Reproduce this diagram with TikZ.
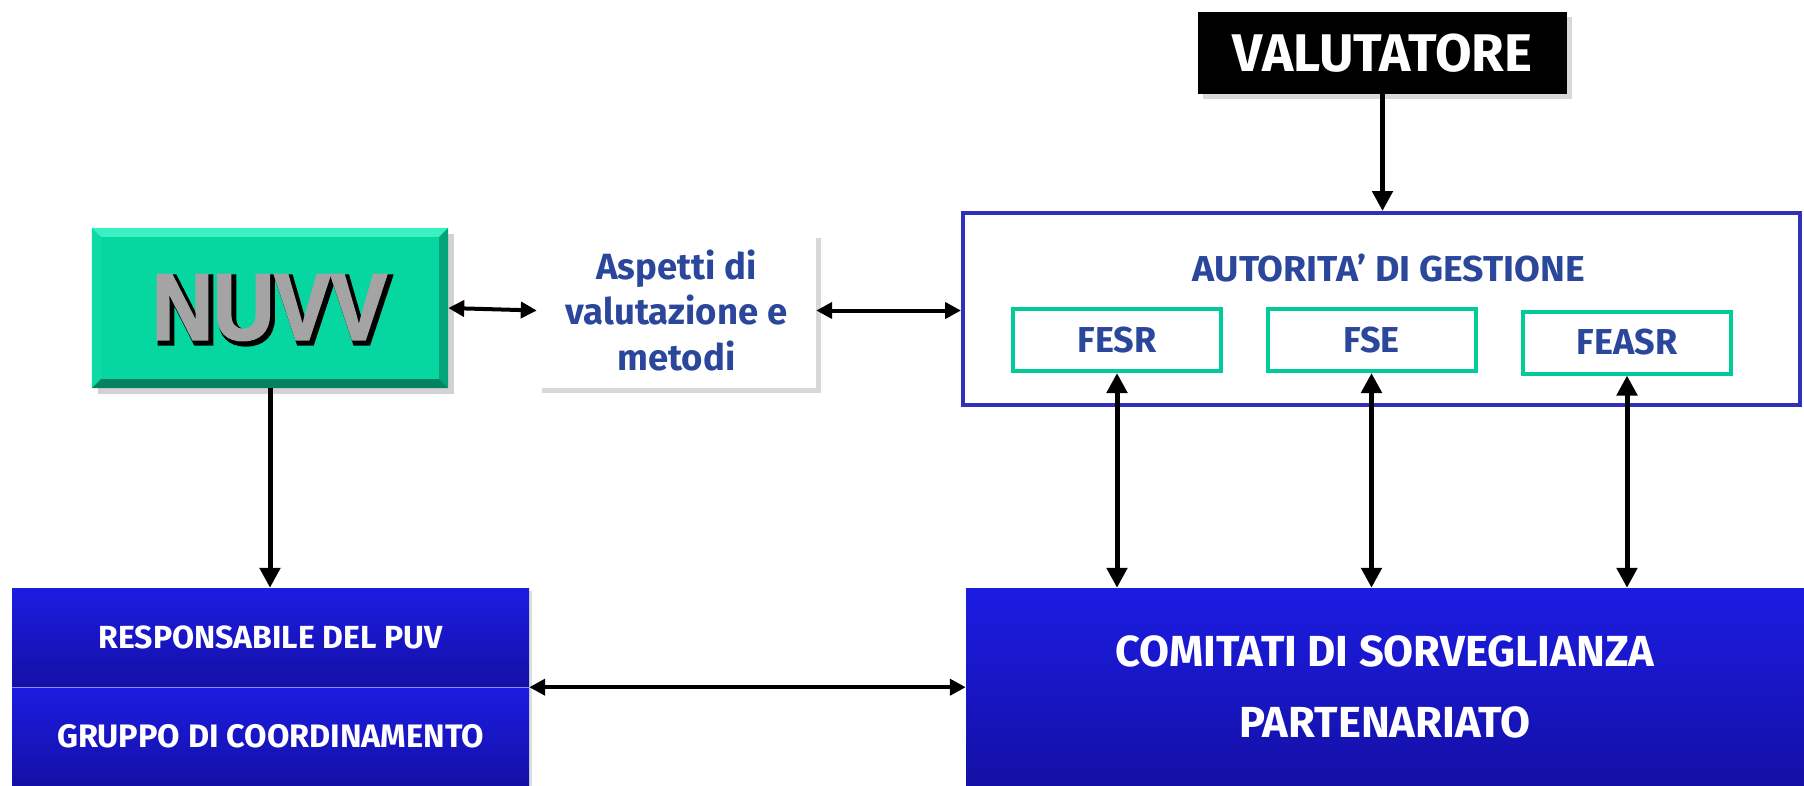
\documentclass[tikz,border=0pt]{standalone}
\usepackage{fontspec}
\setmainfont{Fira Sans}
\newfontfamily\nuvvfontA{Liberation Sans Bold}[FakeBold=2.5]
\newfontfamily\nuvvfontB{Liberation Sans Bold}[FakeBold=7]
\usepackage{graphicx}
\usetikzlibrary{shadows,arrows.meta}
\definecolor{txtblue}{HTML}{2A479C}
\definecolor{adgblue}{HTML}{3030B8}
\definecolor{fundgreen}{HTML}{00CC99}
\definecolor{nuvvgreen}{HTML}{06D6A0}
\definecolor{nuvvlight}{HTML}{3CF0C2}
\definecolor{nuvvdark}{HTML}{03A47A}
\definecolor{nuvvdarker}{HTML}{02825F}
\definecolor{bluetop}{HTML}{1C1CE2}
\definecolor{bluebot}{HTML}{1410A6}
\definecolor{hatchgray}{HTML}{A4A4A4}
\tikzset{
  arr/.style={line width=5pt, -{Triangle[length=20pt,width=20pt]}},
  darr/.style={line width=5pt, {Triangle[length=20pt,width=20pt]}-{Triangle[length=20pt,width=20pt]}},
  hdarr/.style={line width=4pt, {Triangle[length=16pt,width=16pt]}-{Triangle[length=16pt,width=16pt]}},
  fund/.style={draw=fundgreen, line width=4pt, fill=white, minimum width=208pt, minimum height=62pt, inner sep=0pt,
    text=txtblue, font=\bfseries\fontsize{36}{40}\selectfont},
  bluebox/.style={top color=bluetop, bottom color=bluebot, draw=none, inner sep=0pt, text=white,
    drop shadow={shadow xshift=3pt, shadow yshift=-3pt, opacity=0.25}},
  shad/.style={drop shadow={shadow xshift=5pt, shadow yshift=-5pt, opacity=0.3}},
}
\begin{document}
\begin{tikzpicture}[x=1pt, y=-1pt]
\useasboundingbox[fill=white] (0,0) rectangle (1804,785);

% VALUTATORE
\node[fill=black, shad, minimum width=369pt, minimum height=82pt, inner sep=0pt, text=white,
  font=\bfseries\fontsize{53}{56}\selectfont] (valut) at (1382.5,53) {VALUTATORE};

% Autorita di gestione
\node[draw=adgblue, line width=4pt, fill=white, minimum width=837pt, minimum height=192pt, inner sep=0pt] (adg) at (1381.5,309) {};
\node[text=txtblue, font=\bfseries\fontsize{36}{40}\selectfont, inner sep=0pt] (adgt) at (1389,268) {\scalebox{1.04}[1]{AUTORITA’ DI GESTIONE}};
\node[fund] (fesr) at (1117,340) {FESR};
\node[fund] (fse) at (1371.5,340) {FSE};
\node[fund] (feasr) at (1627,342.5) {FEASR};

% NUVV
\node[fill=nuvvgreen, minimum width=356pt, minimum height=160pt, inner sep=0pt,
  drop shadow={shadow xshift=6pt, shadow yshift=-6pt, opacity=0.35}] (nuvv) at (270,308) {};
\fill[nuvvlight] (nuvv.north west) -- (nuvv.north east) -- ([shift={(-9,9)}]nuvv.north east) -- ([shift={(9,9)}]nuvv.north west) -- cycle;
\fill[nuvvgreen!85!nuvvlight] (nuvv.north west) -- ([shift={(9,9)}]nuvv.north west) -- ([shift={(9,-9)}]nuvv.south west) -- (nuvv.south west) -- cycle;
\fill[nuvvdark] (nuvv.north east) -- (nuvv.south east) -- ([shift={(-9,-9)}]nuvv.south east) -- ([shift={(-9,9)}]nuvv.north east) -- cycle;
\fill[nuvvdarker] (nuvv.south west) -- ([shift={(9,-9)}]nuvv.south west) -- ([shift={(-9,-9)}]nuvv.south east) -- (nuvv.south east) -- cycle;
\node[font=\nuvvfontB\fontsize{94}{100}\selectfont, inner sep=0pt, text=black] (nuvvshadow) at ([shift={(2.5,2.5)}]nuvv.center) {\scalebox{0.9}[1]{NUVV}};
\node[font=\nuvvfontA\fontsize{94}{100}\selectfont, inner sep=0pt, text=hatchgray] (nuvvt) at ([shift={(-0.5,-0.5)}]nuvv.center) {\scalebox{0.9}[1]{NUVV}};

% Aspetti
\node[fill=white, shad, minimum width=279pt, minimum height=155pt, inner sep=0pt, align=center,
  text=txtblue, font=\bfseries\fontsize{36.5}{45.5}\selectfont] (asp) at (676.5,310.5) {Aspetti di\\valutazione e\\metodi};

% bottom left
\node[bluebox, minimum width=517pt, minimum height=99pt, font=\bfseries\fontsize{32}{34}\selectfont] (resp) at (270.5,637.5) {RESPONSABILE DEL PUV};
\node[bluebox, minimum width=517pt, minimum height=98pt, font=\bfseries\fontsize{32.5}{34}\selectfont] (grup) at (270.5,736) {GRUPPO DI COORDINAMENTO};
\draw[blue!45!white, line width=1pt] (resp.south west) -- (resp.south east);

% Comitati
\node[bluebox, minimum width=838pt, minimum height=197pt, align=center,
  font=\bfseries\fontsize{43.5}{71}\selectfont] (comit) at (1385,686.5) {COMITATI DI SORVEGLIANZA\\PARTENARIATO};

% connectors
\draw[arr] (valut.south) -- (valut.south |- adg.north);
\draw[hdarr] (nuvv.east) -- (asp.west);
\draw[hdarr] (asp.east) -- (asp.east -| adg.west);
\draw[arr] (nuvv.south) -- (nuvv.south |- resp.north);
\draw[hdarr] (resp.south east) -- (resp.south east -| comit.west);
\draw[darr] (fesr.south) -- (fesr.south |- comit.north);
\draw[darr] (fse.south) -- (fse.south |- comit.north);
\draw[darr] (feasr.south) -- (feasr.south |- comit.north);
\end{tikzpicture}
\end{document}
